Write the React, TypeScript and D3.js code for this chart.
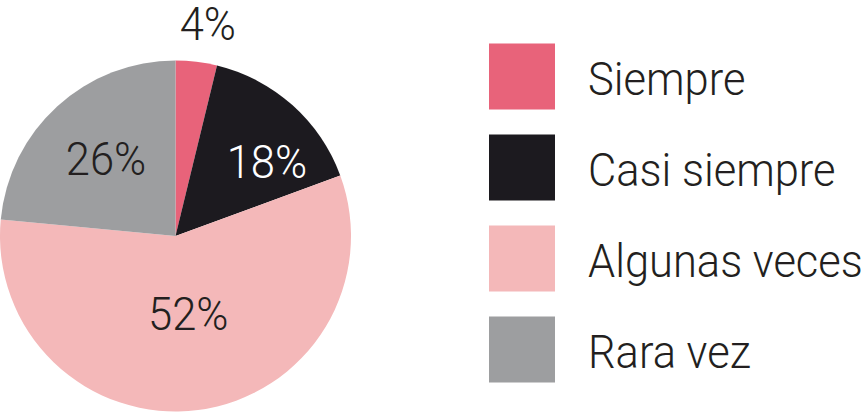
import React, { useEffect, useRef } from 'react';
import * as d3 from 'd3';

// Slice shares as drawn in the picture (measured from the angles)
const categories = ['Siempre', 'Casi siempre', 'Algunas veces', 'Rara vez'];
const shares = [3.8, 15.6, 57.1, 23.5];
// Printed percentage labels
const labels = ['4%', '18%', '52%', '26%'];
const colors = ['#e8637a', '#1c1a1f', '#f4b8b9', '#9d9ea0'];
const labelColors = ['#231f20', '#ffffff', '#231f20', '#231f20'];

export default function App() {
  const ref = useRef<SVGSVGElement>(null);

  useEffect(() => {
    if (!ref.current) return;
    const width = 865;
    const height = 412;
    const cx = 175.5;
    const cy = 236;
    const radius = 175.5;
    const font = 'Roboto, "Liberation Sans", sans-serif';
    const fontSize = 46;
    const squeeze = 0.945; // reference face is a bit narrower than Roboto

    const svg = d3.select(ref.current);
    svg.selectAll('*').remove();
    svg.attr('width', width).attr('height', height);

    const data = categories.map((c, i) => ({ name: c, value: shares[i], label: labels[i], color: colors[i] }));

    const pie = d3.pie<any>().value(d => d.value).sort(null);
    const arc = d3.arc<any>().innerRadius(0).outerRadius(radius);
    const arcs = pie(data);

    const g = svg.append('g').attr('transform', `translate(${cx},${cy})`);

    g.selectAll('path')
      .data(arcs)
      .enter()
      .append('path')
      .attr('d', arc)
      .attr('fill', d => d.data.color);

    // label placement: distance from centre and small angle nudge (degrees)
    const labelPlace = [
      { r: 215, da: 1.8 },
      { r: 118, da: 9 },
      { r: 78, da: -2 },
      { r: 104.5, da: 0.6 }
    ];

    const pos = (d: any, i: number) => {
      const a = (d.startAngle + d.endAngle) / 2 + (labelPlace[i].da * Math.PI) / 180;
      return [labelPlace[i].r * Math.sin(a), -labelPlace[i].r * Math.cos(a)];
    };

    g.selectAll('text.pct')
      .data(arcs)
      .enter()
      .append('text')
      .attr('class', 'pct')
      .attr('transform', (d, i) => {
        const [x, y] = pos(d, i);
        return `translate(${x},${y}) scale(${squeeze},1)`;
      })
      .attr('dy', '0.36em')
      .attr('text-anchor', 'middle')
      .attr('font-family', font)
      .attr('font-weight', 300)
      .attr('font-size', fontSize)
      .attr('fill', (d, i) => labelColors[i])
      .text(d => d.data.label);

    // Legend
    const y = d3.scaleBand().domain(categories).range([43.5, 43.5 + 91 * 4]).paddingInner(0);
    const legend = svg.append('g');
    const items = legend.selectAll('g')
      .data(data)
      .enter()
      .append('g')
      .attr('transform', d => `translate(489,${y(d.name)})`);

    items.append('rect')
      .attr('width', 66)
      .attr('height', 66)
      .attr('fill', d => d.color);

    items.append('text')
      .attr('transform', `translate(99,51.5) scale(${squeeze},1)`)
      .attr('font-family', font)
      .attr('font-weight', 300)
      .attr('font-size', fontSize)
      .attr('fill', '#231f20')
      .text(d => d.name);
  }, []);

  return <svg ref={ref} style={{ position: 'absolute', left: 0, top: 0, background: '#ffffff' }} />;
}
